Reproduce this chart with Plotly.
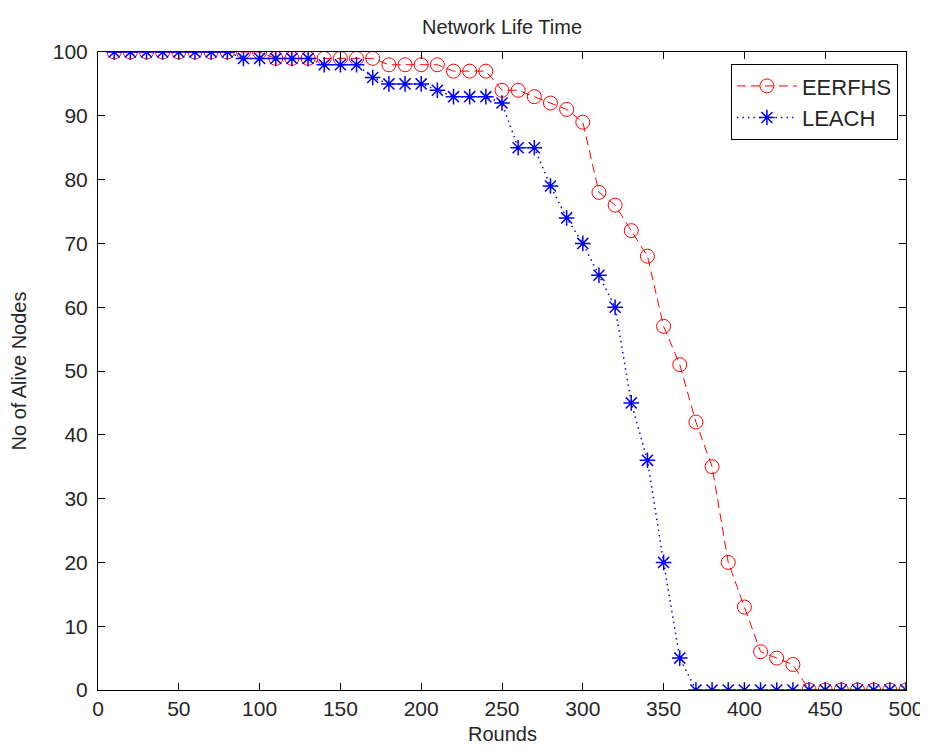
import plotly.graph_objects as go

rounds = list(range(10, 510, 10))
eerfhs = [100, 100, 100, 100, 100, 100, 100, 100, 100, 100,
          99, 99, 99, 99, 99, 99, 99, 98, 98, 98,
          98, 97, 97, 97, 94, 94, 93, 92, 91, 89,
          78, 76, 72, 68, 57, 51, 42, 35, 20, 13,
          6, 5, 4, 0, 0, 0, 0, 0, 0, 0]
leach = [100, 100, 100, 100, 100, 100, 100, 100, 99, 99,
         99, 99, 99, 98, 98, 98, 96, 95, 95, 95,
         94, 93, 93, 93, 92, 85, 85, 79, 74, 70,
         65, 60, 45, 36, 20, 5, 0, 0, 0, 0,
         0, 0, 0, 0, 0, 0, 0, 0, 0, 0]
x_ticks = list(range(0, 550, 50))
y_ticks = list(range(0, 110, 10))

fam = "Liberation Sans, Arial, sans-serif"
ink = "#262626"
label_font = dict(family=fam, size=20, color=ink)
tick_font = dict(family=fam, size=21, color=ink)

# page is offset by the 8px body margin, so the figure is sized/margined to compensate
W, H = 920, 739
ML, MR, MT, MB = 90, 22, 44, 57
plot_h = H - MT - MB

fig = go.Figure()
fig.add_trace(go.Scatter(
    x=rounds, y=eerfhs, name="EERFHS", mode="lines+markers",
    line=dict(color="#ff0000", dash="9px,5px", width=1),
    marker=dict(symbol="circle-open", size=14, color="#ff0000", line=dict(width=1)),
))
fig.add_trace(go.Scatter(
    x=rounds, y=leach, name="LEACH", mode="lines+markers",
    line=dict(color="#0000ff", dash="1.5px,4px", width=1.5),
    marker=dict(symbol="asterisk-open", size=13, color="#0000ff", line=dict(width=1.5)),
))

axis_common = dict(
    showgrid=False, zeroline=False, showline=True, linecolor="black", linewidth=1,
    mirror="ticks", ticks="inside", ticklen=7, tickcolor="black", tickfont=tick_font,
    automargin=False,
)
fig.update_layout(
    width=W, height=H,
    margin=dict(l=ML, r=MR, t=MT, b=MB),
    paper_bgcolor="white", plot_bgcolor="white",
    font=label_font,
    title=dict(text="Network Life Time", x=(ML + (W - ML - MR) / 2) / W, xanchor="center",
               y=1 - 19 / H, yanchor="middle", font=label_font),
    xaxis=dict(range=[0, 500], tickvals=x_ticks, **axis_common),
    yaxis=dict(range=[0, 100], tickvals=y_ticks, ticklabelstandoff=5,
               title=dict(text="No of Alive Nodes", standoff=20, font=label_font), **axis_common),
    legend=dict(x=0.99, y=0.981, xanchor="right", yanchor="top",
                bgcolor="white", bordercolor="black", borderwidth=1,
                font=dict(size=22, family=fam, color=ink),
                itemwidth=60, tracegroupgap=2),
    showlegend=True,
    annotations=[dict(text="Rounds", xref="paper", yref="paper", x=0.5,
                      y=-44 / plot_h, yanchor="middle",
                      showarrow=False, font=label_font)],
)

fig.write_html("out.html")
